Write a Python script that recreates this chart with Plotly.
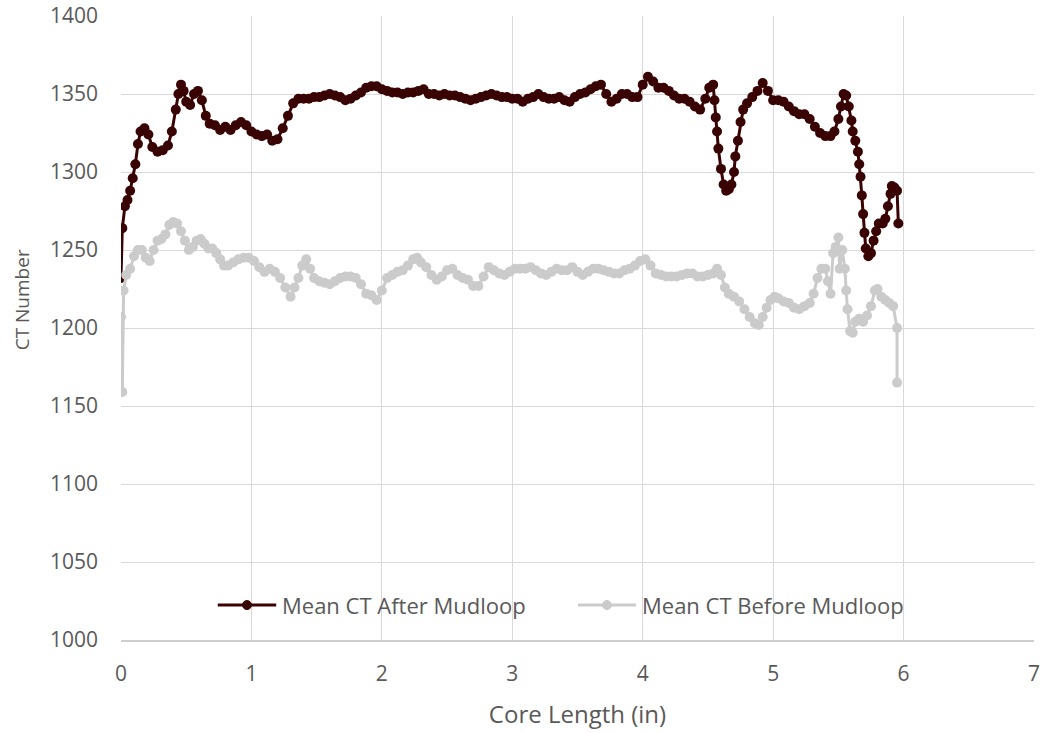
import plotly.graph_objects as go

# Mean CT After Mudloop
after_x = [0.00, 0.01, 0.03, 0.05, 0.07, 0.09, 0.11, 0.13, 0.15, 0.18, 0.21, 0.24, 0.28, 0.32, 0.36, 0.39,
           0.42, 0.44, 0.46, 0.48, 0.50, 0.53, 0.56, 0.59, 0.62, 0.65, 0.68, 0.72, 0.76, 0.80, 0.84, 0.88,
           0.92, 0.96, 1.00, 1.04, 1.08, 1.12, 1.16, 1.20, 1.24, 1.28, 1.32, 1.36, 1.40, 1.44, 1.48, 1.52,
           1.56, 1.60, 1.64, 1.68, 1.72, 1.76, 1.80, 1.84, 1.88, 1.92, 1.96, 2.00, 2.04, 2.08, 2.12, 2.16,
           2.20, 2.24, 2.28, 2.32, 2.36, 2.40, 2.44, 2.48, 2.52, 2.56, 2.60, 2.64, 2.68, 2.72, 2.76, 2.80,
           2.84, 2.88, 2.92, 2.96, 3.00, 3.04, 3.08, 3.12, 3.16, 3.20, 3.24, 3.28, 3.32, 3.36, 3.40, 3.44,
           3.48, 3.52, 3.56, 3.60, 3.64, 3.68, 3.72, 3.76, 3.80, 3.84, 3.88, 3.92, 3.96, 4.00, 4.04, 4.08,
           4.12, 4.16, 4.20, 4.24, 4.28, 4.32, 4.36, 4.40, 4.44, 4.48, 4.51, 4.54, 4.55, 4.56, 4.57, 4.58,
           4.60, 4.62, 4.64, 4.66, 4.68, 4.70, 4.71, 4.73, 4.75, 4.77, 4.80, 4.84, 4.88, 4.92, 4.96, 5.00,
           5.04, 5.08, 5.12, 5.16, 5.20, 5.24, 5.28, 5.32, 5.36, 5.40, 5.44, 5.47, 5.50, 5.52, 5.54, 5.56,
           5.58, 5.60, 5.61, 5.63, 5.65, 5.66, 5.67, 5.68, 5.69, 5.70, 5.71, 5.73, 5.75, 5.77, 5.79, 5.81,
           5.84, 5.86, 5.88, 5.90, 5.91, 5.93, 5.95, 5.96]
after_y = [1232, 1264, 1278, 1282, 1288, 1296, 1305, 1318, 1326, 1328, 1324, 1316, 1313, 1314, 1317, 1326,
           1340, 1350, 1356, 1352, 1345, 1343, 1350, 1352, 1346, 1336, 1331, 1330, 1327, 1329, 1327, 1330,
           1332, 1330, 1326, 1324, 1323, 1324, 1320, 1321, 1328, 1336, 1344, 1347, 1347, 1347, 1348, 1348,
           1349, 1350, 1349, 1348, 1346, 1347, 1349, 1351, 1354, 1355, 1355, 1353, 1352, 1351, 1351, 1350,
           1351, 1351, 1352, 1353, 1350, 1350, 1349, 1350, 1349, 1349, 1348, 1347, 1346, 1347, 1348, 1349,
           1350, 1349, 1348, 1348, 1347, 1347, 1345, 1347, 1348, 1350, 1348, 1347, 1347, 1348, 1346, 1345,
           1348, 1350, 1351, 1353, 1355, 1356, 1350, 1345, 1347, 1350, 1350, 1348, 1348, 1356, 1361, 1358,
           1354, 1354, 1352, 1349, 1347, 1347, 1345, 1342, 1340, 1347, 1354, 1356, 1346, 1335, 1326, 1315,
           1302, 1292, 1288, 1289, 1292, 1300, 1310, 1320, 1332, 1340, 1344, 1348, 1352, 1357, 1352, 1346,
           1346, 1345, 1342, 1339, 1337, 1337, 1334, 1329, 1325, 1323, 1323, 1326, 1334, 1342, 1350, 1349,
           1342, 1333, 1326, 1320, 1313, 1305, 1297, 1285, 1273, 1261, 1251, 1246, 1248, 1256, 1262, 1267,
           1267, 1270, 1278, 1286, 1291, 1290, 1288, 1267]

# Mean CT Before Mudloop
before_x = [0.00, 0.01, 0.02, 0.04, 0.07, 0.10, 0.13, 0.16, 0.19, 0.22, 0.25, 0.28, 0.31, 0.34, 0.37, 0.40,
            0.43, 0.46, 0.49, 0.52, 0.55, 0.58, 0.61, 0.64, 0.67, 0.70, 0.73, 0.76, 0.79, 0.82, 0.86, 0.90,
            0.94, 0.98, 1.02, 1.06, 1.10, 1.14, 1.18, 1.22, 1.26, 1.30, 1.33, 1.36, 1.39, 1.42, 1.45, 1.48,
            1.52, 1.56, 1.60, 1.64, 1.68, 1.72, 1.76, 1.80, 1.84, 1.88, 1.92, 1.96, 2.00, 2.04, 2.08, 2.12,
            2.16, 2.20, 2.24, 2.27, 2.30, 2.34, 2.38, 2.42, 2.46, 2.50, 2.54, 2.58, 2.62, 2.66, 2.70, 2.74,
            2.78, 2.82, 2.86, 2.90, 2.94, 2.98, 3.02, 3.06, 3.10, 3.14, 3.18, 3.22, 3.26, 3.30, 3.34, 3.38,
            3.42, 3.46, 3.50, 3.54, 3.58, 3.62, 3.66, 3.70, 3.74, 3.78, 3.82, 3.86, 3.90, 3.94, 3.98, 4.02,
            4.06, 4.10, 4.14, 4.18, 4.22, 4.26, 4.30, 4.34, 4.38, 4.42, 4.46, 4.50, 4.54, 4.57, 4.60, 4.63,
            4.66, 4.70, 4.74, 4.78, 4.82, 4.86, 4.89, 4.92, 4.95, 4.98, 5.01, 5.04, 5.08, 5.12, 5.16, 5.20,
            5.24, 5.28, 5.31, 5.34, 5.37, 5.40, 5.42, 5.44, 5.46, 5.48, 5.50, 5.51, 5.53, 5.55, 5.56, 5.57,
            5.59, 5.61, 5.63, 5.66, 5.69, 5.72, 5.75, 5.78, 5.80, 5.83, 5.86, 5.89, 5.92, 5.95, 5.95]
before_y = [1207, 1159, 1224, 1234, 1238, 1246, 1250, 1250, 1245, 1243, 1250, 1256, 1257, 1260, 1266, 1268,
            1267, 1262, 1256, 1250, 1252, 1256, 1257, 1254, 1251, 1251, 1248, 1244, 1240, 1240, 1242, 1244,
            1245, 1245, 1243, 1239, 1236, 1238, 1236, 1232, 1226, 1220, 1226, 1232, 1240, 1244, 1238, 1232,
            1230, 1229, 1228, 1230, 1232, 1233, 1233, 1232, 1228, 1222, 1221, 1218, 1224, 1232, 1234, 1236,
            1237, 1240, 1244, 1245, 1242, 1239, 1234, 1231, 1233, 1237, 1238, 1234, 1232, 1231, 1227, 1227,
            1233, 1239, 1237, 1235, 1234, 1236, 1238, 1238, 1238, 1239, 1237, 1235, 1234, 1236, 1238, 1237,
            1237, 1239, 1236, 1234, 1236, 1238, 1238, 1237, 1236, 1235, 1235, 1237, 1238, 1240, 1243, 1244,
            1240, 1235, 1234, 1233, 1233, 1233, 1234, 1235, 1235, 1233, 1233, 1234, 1235, 1238, 1234, 1226,
            1222, 1220, 1217, 1212, 1207, 1203, 1202, 1207, 1213, 1218, 1220, 1219, 1217, 1216, 1213, 1212,
            1214, 1216, 1222, 1232, 1238, 1238, 1230, 1222, 1248, 1252, 1258, 1238, 1250, 1238, 1224, 1212,
            1198, 1197, 1204, 1206, 1204, 1208, 1214, 1224, 1225, 1220, 1218, 1216, 1214, 1200, 1165]

series_names = ["Mean CT After Mudloop", "Mean CT Before Mudloop"]
x_ticks = [0, 1, 2, 3, 4, 5, 6, 7]
y_ticks = [1000, 1050, 1100, 1150, 1200, 1250, 1300, 1350, 1400]

AFTER_COLOR = "#3a0303"
BEFORE_COLOR = "#cbcbcb"
TEXT_COLOR = "#595959"
GRID_COLOR = "#d9d9d9"
FONT = "Open Sans"

fig = go.Figure()
fig.add_trace(go.Scatter(
    x=after_x, y=after_y, mode="lines+markers", name=series_names[0],
    line=dict(color=AFTER_COLOR, width=3),
    marker=dict(color=AFTER_COLOR, size=10),
    showlegend=False,
))
fig.add_trace(go.Scatter(
    x=before_x, y=before_y, mode="lines+markers", name=series_names[1],
    line=dict(color=BEFORE_COLOR, width=3),
    marker=dict(color=BEFORE_COLOR, size=10),
    showlegend=False,
))

# Legend drawn inside the plot area (sample line + marker + label), Excel style
legend_y = 0.056
legend_items = [
    (series_names[0], AFTER_COLOR, 0.106, 0.170),
    (series_names[1], BEFORE_COLOR, 0.5005, 0.564),
]
for name, color, lx0, lx1 in legend_items:
    fig.add_shape(type="line", xref="paper", yref="paper", x0=lx0, x1=lx1, y0=legend_y, y1=legend_y,
                  line=dict(color=color, width=3), layer="above")
    cx = (lx0 + lx1) / 2
    fig.add_shape(type="circle", xref="paper", yref="paper", xsizemode="pixel", ysizemode="pixel",
                  xanchor=cx, yanchor=legend_y, x0=-4.5, x1=4.5, y0=-4.5, y1=4.5,
                  fillcolor=color, line=dict(color=color, width=1), layer="above")
    fig.add_annotation(x=lx1 + 0.004, y=legend_y, xref="paper", yref="paper", text=name,
                       showarrow=False, xanchor="left", yanchor="middle",
                       font=dict(size=22, color=TEXT_COLOR, family=FONT))

# Y-axis title
fig.add_annotation(x=-0.108, y=0.545, xref="paper", yref="paper", text="CT Number", textangle=-90,
                   showarrow=False, xanchor="center", yanchor="middle",
                   font=dict(size=19, color=TEXT_COLOR, family=FONT))

fig.update_layout(
    width=1042, height=733,
    margin=dict(l=121, r=8, t=16, b=93, autoexpand=False),
    paper_bgcolor="white", plot_bgcolor="white",
    font=dict(family=FONT, size=21, color=TEXT_COLOR),
    showlegend=False,
    xaxis=dict(
        range=[0, 7], tickvals=x_ticks, showgrid=True, gridcolor=GRID_COLOR, gridwidth=1.3,
        zeroline=False, showline=True, linecolor="#cfcfcf", linewidth=1.5,
        ticks="", ticklabelstandoff=14, automargin=False,
        tickfont=dict(size=21, color=TEXT_COLOR),
        title=dict(text="Core Length (in)", font=dict(size=24, color=TEXT_COLOR), standoff=20),
    ),
    yaxis=dict(
        range=[1000, 1400], tickvals=y_ticks, showgrid=True, gridcolor=GRID_COLOR, gridwidth=1.3,
        zeroline=False, showline=False,
        ticks="", ticklabelstandoff=22, automargin=False,
        tickfont=dict(size=21, color=TEXT_COLOR),
    ),
)

fig.write_html("out.html")
